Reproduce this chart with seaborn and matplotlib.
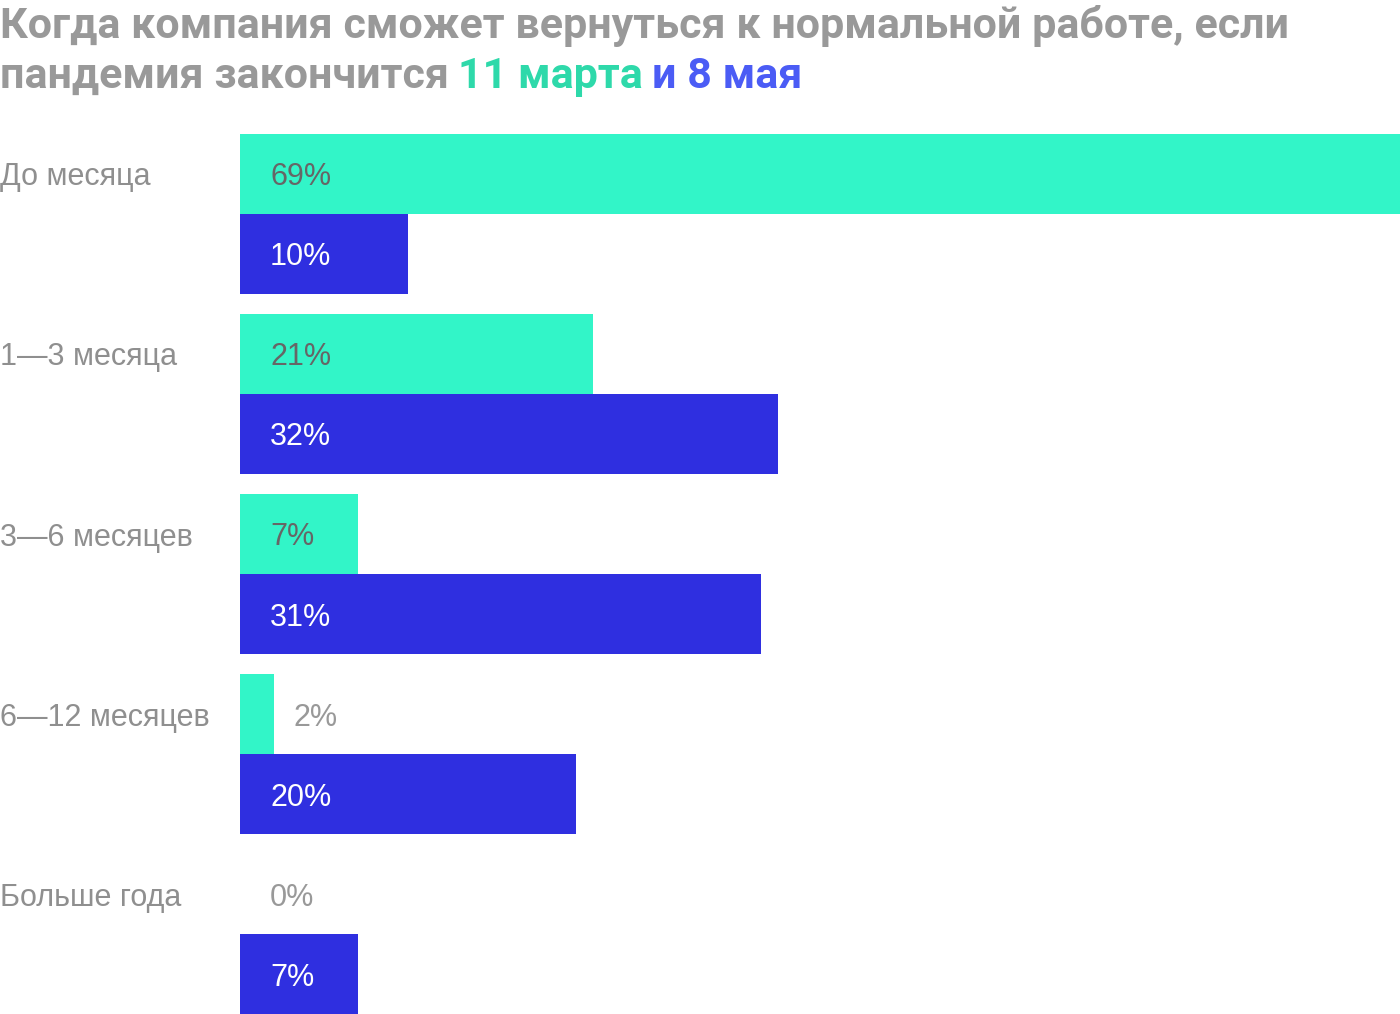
import matplotlib
matplotlib.use("Agg")
import matplotlib.pyplot as plt
import matplotlib.transforms as mtransforms
import seaborn as sns
import pandas as pd

categories = ["До месяца", "1—3 месяца", "3—6 месяцев", "6—12 месяцев", "Больше года"]
march = [69, 21, 7, 2, 0]
may = [10, 32, 31, 20, 7]
series_names = ["11 марта", "8 мая"]

GREEN = "#32F5C8"
BLUE = "#2F2FE0"
TITLE_GRAY = "#999999"
LABEL_GRAY = "#8F8F8F"
TITLE_GREEN = "#2ED9AA"
TITLE_BLUE = "#4B5CF5"

sns.set_theme(style="white")
plt.rcParams["font.family"] = ["Roboto", "DejaVu Sans"]
LABEL_FONT = ["Liberation Sans", "DejaVu Sans"]

df = pd.DataFrame({
    "cat": categories * 2,
    "val": march + may,
    "date": [series_names[0]] * len(categories) + [series_names[1]] * len(categories),
})

W, H = 1400, 1014
fig = plt.figure(figsize=(W / 100, H / 100), dpi=100)
ax = fig.add_axes([240 / W, 0, 1 - 240 / W, 1 - 134 / H])

sns.barplot(data=df, y="cat", x="val", hue="date", orient="h",
            palette=[GREEN, BLUE], width=160 / 180, dodge=True,
            saturation=1, legend=False, ax=ax, linewidth=0)

ax.set_xlim(0, 69)
ax.set_ylim(len(categories) - 1 + 0.4444, -0.4444)
ax.axis("off")

LFS = 22
# value labels
for cont_i, (cont, vals) in enumerate(zip(ax.containers, [march, may])):
    for bar, v in zip(cont, vals):
        yc = bar.get_y() + bar.get_height() / 2
        if v >= 5:
            color = "#666666" if cont_i == 0 else "white"
            ax.annotate(f"{v}%", xy=(0, yc), xytext=(21.6, 0), textcoords="offset points",
                        ha="left", va="center_baseline", fontsize=LFS, color=color,
                        family=LABEL_FONT)
        else:
            off = 14.4 if v > 0 else 21.6
            ax.annotate(f"{v}%", xy=(v, yc), xytext=(off, 0), textcoords="offset points",
                        ha="left", va="center_baseline", fontsize=LFS, color=TITLE_GRAY,
                        family=LABEL_FONT)

# category labels aligned to the first bar of each group
trans = mtransforms.blended_transform_factory(fig.transFigure, ax.transData)
for i, c in enumerate(categories):
    ax.text(0, i - 0.2222, c, transform=trans, ha="left", va="center_baseline",
            fontsize=LFS, color=LABEL_GRAY, clip_on=False, family=LABEL_FONT)

# title
fs = 31
fig.text(0, 1 - 38 / H, "Когда компания сможет вернуться к нормальной работе, если",
         ha="left", va="baseline", fontsize=fs, fontweight="bold", color=TITLE_GRAY)
renderer = fig.canvas.get_renderer()
x = 0
gap = 9 / W
for txt, col in [("пандемия закончится", TITLE_GRAY), ("11 марта", TITLE_GREEN), ("и 8 мая", TITLE_BLUE)]:
    t = fig.text(x, 1 - 88 / H, txt, ha="left", va="baseline", fontsize=fs,
                 fontweight="bold", color=col)
    bb = t.get_window_extent(renderer=renderer)
    x = bb.x1 / W + gap

fig.savefig("out.png", dpi=100)
